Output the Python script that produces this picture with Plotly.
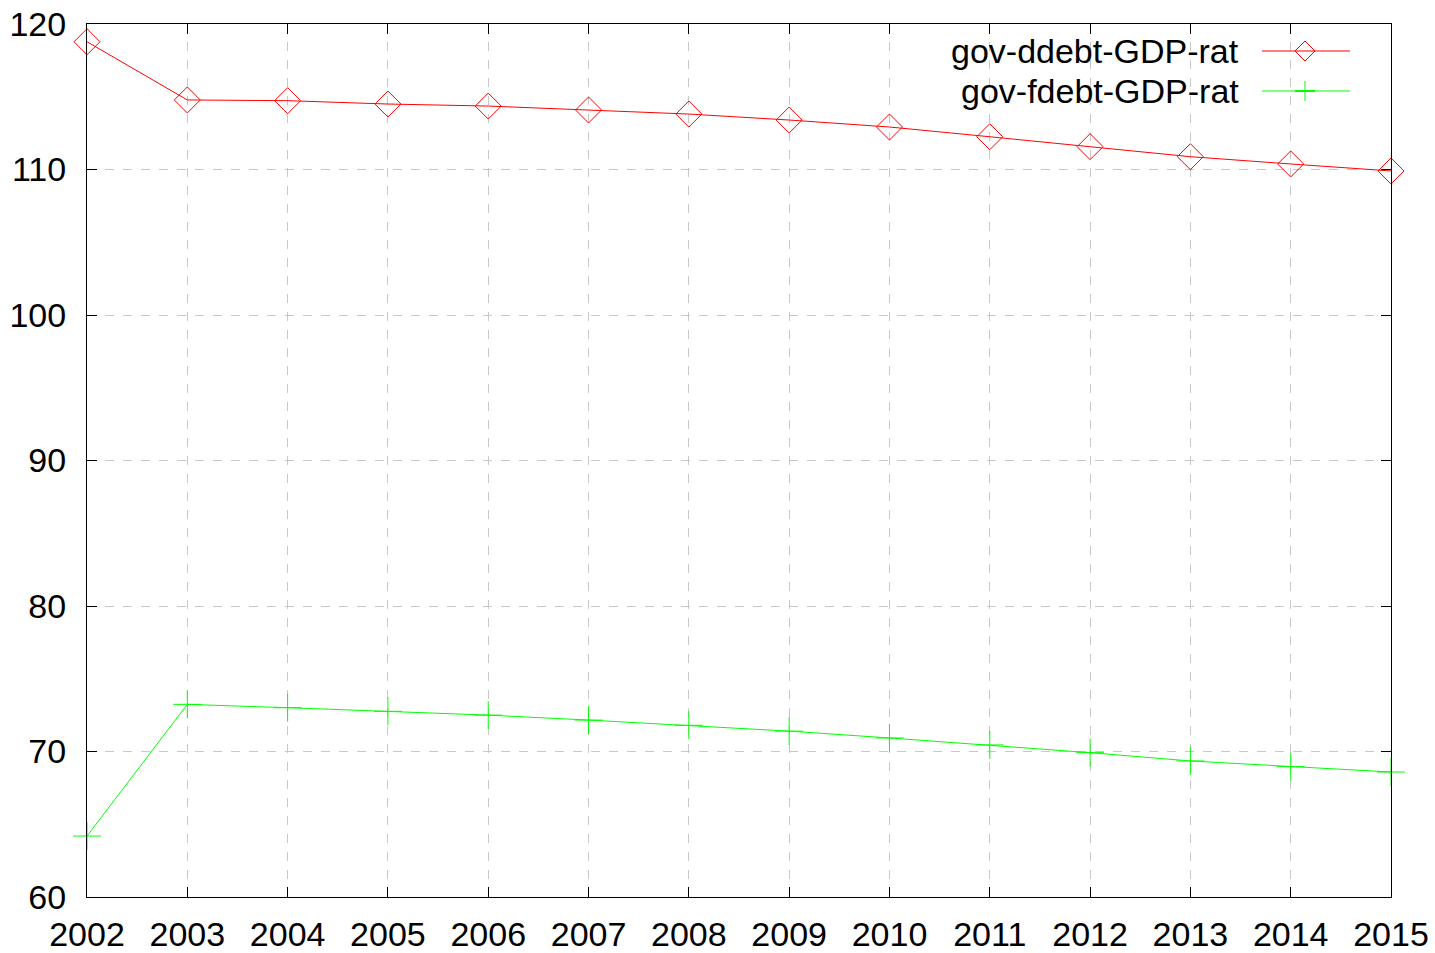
import plotly.graph_objects as go

years = list(range(2002, 2016))
ddebt = [118.78, 114.78, 114.73, 114.50, 114.36, 114.09, 113.81, 113.40, 112.92, 112.25, 111.57, 110.88, 110.38, 109.90]
fdebt = [64.19, 73.24, 73.01, 72.76, 72.50, 72.16, 71.80, 71.40, 70.93, 70.45, 69.92, 69.35, 68.96, 68.59]
series_names = ["gov-ddebt-GDP-rat", "gov-fdebt-GDP-rat"]
y_ticks = [60, 70, 80, 90, 100, 110, 120]

RED = "#ff0000"
GREEN = "#00ff00"
FONT = "Liberation Sans, Arial, sans-serif"
FS = 34

fig = go.Figure()
fig.add_trace(go.Scatter(
    x=years, y=ddebt, mode="lines+markers", name=series_names[0],
    line=dict(color=RED, width=1),
    marker=dict(symbol="diamond-open", size=20, color=RED, line=dict(width=1, color=RED)),
    cliponaxis=False, showlegend=False))
fig.add_trace(go.Scatter(
    x=years, y=fdebt, mode="lines+markers", name=series_names[1],
    line=dict(color=GREEN, width=1),
    marker=dict(symbol="cross-thin-open", size=20, color=GREEN, line=dict(width=1, color=GREEN)),
    cliponaxis=False, showlegend=False))

L, R, T, B = 87, 44, 24, 56
W, H = 1435, 953
pw, ph = W - L - R, H - T - B

def px(xp):
    return (xp - L) / pw

def py(yp):
    return (H - B - yp) / ph

# custom legend (gnuplot style: text right-aligned, sample to the right)
legend_rows = [(51, RED, "diamond"), (91, GREEN, "cross")]
shapes = []
annotations = []
for name, (yy, col, kind) in zip(series_names, legend_rows):
    annotations.append(dict(x=px(1241), y=py(yy), xref="paper", yref="paper",
                            text=name, showarrow=False, xanchor="right", yanchor="middle",
                            font=dict(family=FONT, size=FS, color="black")))
    shapes.append(dict(type="line", xref="paper", yref="paper",
                       x0=px(1262), x1=px(1350), y0=py(yy), y1=py(yy),
                       line=dict(color=col, width=1)))
    cx, cy = 1305, yy
    if kind == "diamond":
        d = 10
        path = "M {} {} L {} {} L {} {} L {} {} Z".format(
            px(cx - d), py(cy), px(cx), py(cy - d), px(cx + d), py(cy), px(cx), py(cy + d))
        shapes.append(dict(type="path", xref="paper", yref="paper", path=path,
                           line=dict(color=col, width=1)))
    else:
        d = 10
        shapes.append(dict(type="line", xref="paper", yref="paper",
                           x0=px(cx), x1=px(cx), y0=py(cy - d), y1=py(cy + d),
                           line=dict(color=col, width=1)))
        shapes.append(dict(type="line", xref="paper", yref="paper",
                           x0=px(cx - 10), x1=px(cx + 10), y0=py(cy), y1=py(cy),
                           line=dict(color=col, width=2)))

axis_common = dict(
    showline=True, linecolor="black", linewidth=1, mirror="allticks",
    ticks="inside", ticklen=10, tickcolor="black", tickwidth=1,
    showgrid=True, gridcolor="#c8c8c8", griddash="dash", gridwidth=1,
    zeroline=False, automargin=False,
    tickfont=dict(family=FONT, size=FS, color="black"),
)

fig.update_layout(
    width=W, height=H,
    margin=dict(l=L, r=R, t=T, b=B, pad=0),
    plot_bgcolor="white", paper_bgcolor="white",
    font=dict(family=FONT, size=FS, color="black"),
    xaxis=dict(range=[years[0], years[-1]], tickmode="array", tickvals=years,
               ticktext=[str(y) for y in years], ticklabelstandoff=7, **axis_common),
    yaxis=dict(range=[y_ticks[0], y_ticks[-1]], tickmode="array", tickvals=y_ticks,
               ticktext=[str(v) for v in y_ticks], ticklabelstandoff=13, **axis_common),
    shapes=shapes, annotations=annotations,
)

fig.write_html("out.html")
